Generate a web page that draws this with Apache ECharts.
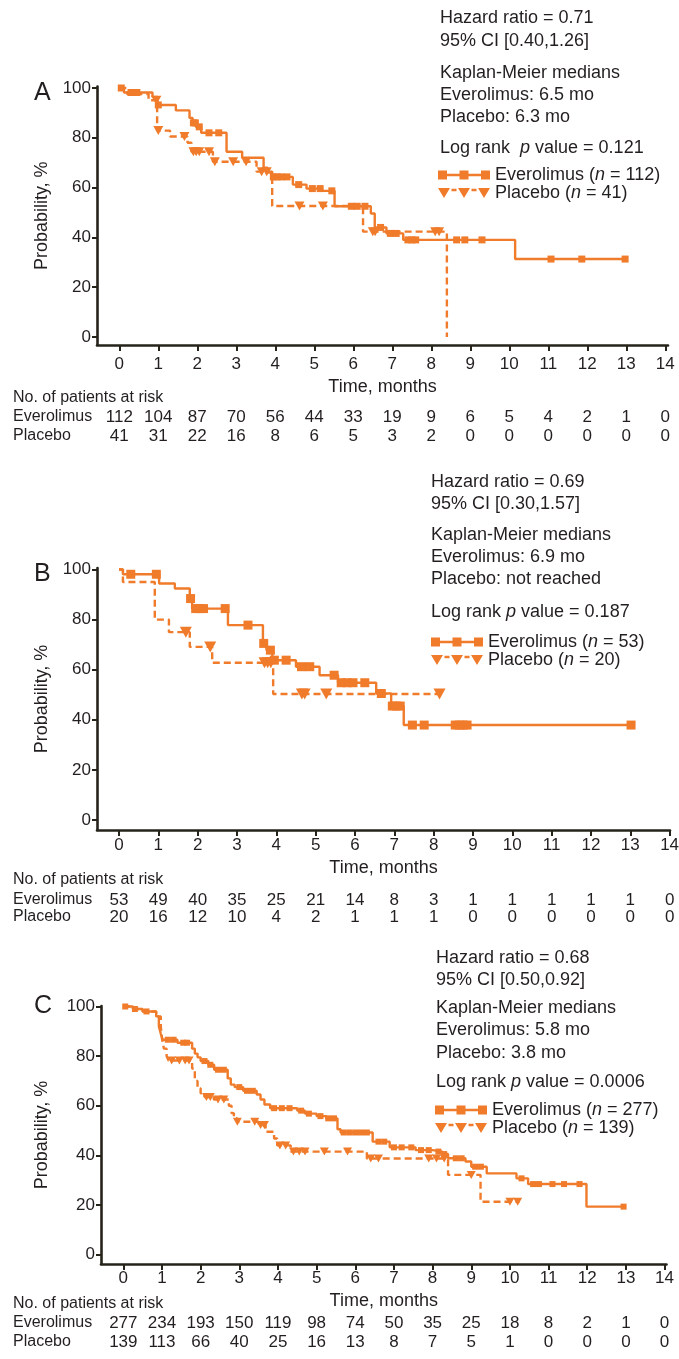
<!DOCTYPE html>
<html><head><meta charset="utf-8">
<script src="https://cdn.jsdelivr.net/npm/echarts@6/dist/echarts.min.js"></script>
<style>html,body{margin:0;padding:0;background:#fff}#c{width:679px;height:1359px}</style>
</head><body><div id="c"></div>
<script>
// ---------- data ----------
const months = [0,1,2,3,4,5,6,7,8,9,10,11,12,13,14];
const yTicks = [0,20,40,60,80,100];

const riskA_ever = [112,104,87,70,56,44,33,19,9,6,5,4,2,1,0];
const riskA_plac = [41,31,22,16,8,6,5,3,2,0,0,0,0,0,0];
const riskB_ever = [53,49,40,35,25,21,14,8,3,1,1,1,1,1,0];
const riskB_plac = [20,16,12,10,4,2,1,1,1,0,0,0,0,0,0];
const riskC_ever = [277,234,193,150,119,98,74,50,35,25,18,8,2,1,0];
const riskC_plac = [139,113,66,40,25,16,13,8,7,5,1,0,0,0,0];

// Panel A
const A_ever_t = [0,0.12,0.85,0.98,1.45,1.8,1.88,1.96,2.1,2.75,3.15,3.7,3.8,3.92,4.45,4.8,5.2,5.52,6.45,6.55,6.85,7.28,10.15,12.97];
const A_ever_s = [100,98.2,96.4,93.2,91.0,88.0,86.0,84.4,82.0,74.4,72.0,68.0,66.0,64.3,61.2,59.6,58.7,52.5,49.6,44.0,41.6,39.0,31.3,31.3];
const A_ever_c = [0.05,0.3,0.45,1.0,1.9,1.95,2.05,2.3,2.55,3.95,4.05,4.15,4.3,4.6,4.95,5.15,5.45,5.95,6.1,6.3,6.7,6.95,7.1,7.4,7.5,7.6,8.65,8.86,9.3,11.07,11.86,12.97];
const A_plac_t = [0,0.2,0.75,0.97,1.3,1.75,1.85,2.4,3.52,3.92,6.25,8.4];
const A_plac_s = [100,97.6,95.1,82.9,80.5,78.0,74.4,70.4,66.4,52.6,42.3,0];
const A_plac_c = [0.95,1.0,1.67,1.9,1.97,2.05,2.3,2.45,2.92,3.25,3.65,3.78,4.62,5.22,6.5,6.56,8.1,8.2];

// Panel B
const B_ever_t = [0,0.1,1.02,1.42,1.8,1.86,2.77,3.66,3.75,3.9,4.5,5.1,5.57,6.54,6.92,7.24,13.02];
const B_ever_s = [100,98.1,94.4,92.4,88.4,84.4,77.8,70.5,67.8,63.8,61.2,57.8,54.8,50.5,45.5,37.9,37.9];
const B_ever_c = [0.3,0.95,1.82,1.95,2.05,2.15,2.7,3.28,3.68,3.85,3.95,4.25,4.64,4.85,5.47,5.65,5.8,5.95,6.25,6.67,6.95,7.05,7.15,7.46,7.76,8.55,8.65,8.75,8.85,13.02];
const B_plac_t = [0,0.1,0.91,1.27,1.8,2.37,3.92,8.15];
const B_plac_s = [100,95.0,80.0,75.0,69.1,62.8,50.3,50.3];
const B_plac_c = [1.7,2.32,3.7,3.78,3.86,4.65,4.72,5.27,8.15];

// Panel C
const C_ever_t = [0,0.25,0.5,0.85,0.92,0.97,1.02,1.4,1.78,1.85,1.92,2.0,2.2,2.35,2.7,2.78,2.88,3.1,3.45,3.55,3.65,3.8,4.5,4.7,5.0,5.25,5.54,5.62,6.45,6.89,7.56,8.0,8.25,8.4,8.85,9.0,9.4,10.17,10.47,11.98,12.94];
const C_ever_s = [100,99,98,96,92,89,86.6,85.4,83,81,79.5,78,76.5,74.5,71,68.5,67.5,66,64.5,62.5,60.5,59,58,56.8,55.8,54.9,50.5,49.2,45.5,43.2,42.1,41.5,40.5,38.8,37.5,35.4,32.7,30.7,28.4,19.3,19.3];
const C_ever_c = [0.05,0.3,0.6,1.15,1.3,1.55,1.65,2.1,2.25,2.45,2.6,3.0,3.2,3.35,3.9,4.1,4.3,4.6,4.8,5.1,5.3,5.45,5.7,5.85,6.0,6.15,6.3,6.6,6.75,7.0,7.2,7.45,7.7,7.9,8.15,8.3,8.6,8.75,9.1,9.25,10.3,10.6,10.75,11.1,11.4,11.8,12.94];
const C_plac_t = [0,0.25,0.5,0.85,0.97,1.0,1.05,1.12,1.17,1.78,1.85,1.92,2.0,2.1,2.34,2.73,2.8,2.86,2.94,3.5,3.68,3.9,3.98,4.33,6.3,8.4,9.24,10.25];
const C_plac_s = [100,99,98,96,92,87,83,80,78.2,75,70,67,65,63.5,62.5,60,57,55,53.5,52.2,49.5,46.8,44,41.5,38.7,32.1,21.3,21.3];
const C_plac_c = [1.25,1.45,1.6,1.7,2.15,2.25,2.45,2.6,2.95,3.4,3.55,3.65,4.05,4.2,4.4,4.55,4.7,5.2,5.8,6.4,6.6,7.9,8.1,8.3,9.0,10.0,10.2];

// ---------- styling / layout ----------
const ORANGE = '#EF7B2B';
const AXIS = '#26241a';
const TXT = '#231f20';
const FONT = '"Liberation Sans", Arial, Helvetica, sans-serif';

const panels = [
  {key:'A', grid:{left:97, top:86.5, width:571, height:258.5}, xMin:-0.572, xMax:14.07, yMin:-3.21, yMax:100.6,
   ever:[A_ever_t,A_ever_s,A_ever_c], plac:[A_plac_t,A_plac_s,A_plac_c], risk:[riskA_ever,riskA_plac],
   n:[112,41], labMargin:11, nameGap:33, yNameGap:46, riskMargin:[64,83], sq:7, tri:[10,9],
   letterY:93, notesX:440, notesY:[18,41,73,95,117,148], legend:{left:438, top:166},
   notes:['Hazard ratio = 0.71','95% CI [0.40,1.26]','Kaplan-Meier medians','Everolimus: 6.5 mo','Placebo: 6.3 mo','{t|Log rank  }{i|p}{t| value = 0.121}'],
   rowY:[398,417,436]},
  {key:'B', grid:{left:97, top:568, width:573, height:262}, xMin:-0.559, xMax:14.01, yMin:-3.99, yMax:100.6,
   ever:[B_ever_t,B_ever_s,B_ever_c], plac:[B_plac_t,B_plac_s,B_plac_c], risk:[riskB_ever,riskB_plac],
   n:[53,20], labMargin:7, nameGap:29, yNameGap:46, riskMargin:[62,79], sq:9, tri:[12,11],
   letterY:574, notesX:431, notesY:[482,504,535,557,579,612], legend:{left:431, top:633},
   notes:['Hazard ratio = 0.69','95% CI [0.30,1.57]','Kaplan-Meier medians','Everolimus: 6.9 mo','Placebo: not reached','{t|Log rank }{i|p}{t| value = 0.187}'],
   rowY:[880,900,917]},
  {key:'C', grid:{left:101, top:1006, width:565.5, height:258}, xMin:-0.577, xMax:14.05, yMin:-3.83, yMax:100.2,
   ever:[C_ever_t,C_ever_s,C_ever_c], plac:[C_plac_t,C_plac_s,C_plac_c], risk:[riskC_ever,riskC_plac],
   n:[277,139], labMargin:6, nameGap:28, yNameGap:50, riskMargin:[51,70], sq:6, tri:[9,8],
   letterY:1006, notesX:436, notesY:[958,980,1008,1030,1053,1082], legend:{left:435, top:1101},
   notes:['Hazard ratio = 0.68','95% CI [0.50,0.92]','Kaplan-Meier medians','Everolimus: 5.8 mo','Placebo: 3.8 mo','{t|Log rank }{i|p}{t| value = 0.0006}'],
   rowY:[1304,1323,1342]}
];

function survAt(t, times, surv) {
  let v = surv[0];
  for (let i = 0; i < times.length; i++) { if (times[i] <= t) v = surv[i]; }
  return v;
}

const ICON_EVER = 'path://M0,0H9V9H0Z M21.5,0H30.5V9H21.5Z M43,0H52V9H43Z M9,3.3H21.5V5.7H9Z M30.5,3.3H43V5.7H30.5Z';
const ICON_PLAC = 'path://M0,0H12L6,10Z M20,0H32L26,10Z M40,0H52L46,10Z M13.5,0.8H18.5V3.2H13.5Z M33.5,0.8H38.5V3.2H33.5Z';

const grids = [], xAxes = [], yAxes = [], series = [], legends = [], graphics = [];
const legendNames = {};

panels.forEach((p, gi) => {
  grids.push(Object.assign({outerBoundsMode:'none', containLabel:false}, p.grid));
  xAxes.push({
    type:'value', gridIndex:gi, min:p.xMin, max:p.xMax, position:'bottom',
    axisLine:{show:true, onZero:false, lineStyle:{color:AXIS, width:2.6}},
    axisTick:{show:true, customValues:months, length:6, lineStyle:{color:AXIS, width:2}},
    axisLabel:{customValues:months, fontSize:17, fontFamily:FONT, color:TXT, margin:p.labMargin},
    splitLine:{show:false},
    name:'Time, months', nameLocation:'middle', nameGap:p.nameGap,
    nameTextStyle:{fontSize:18, fontFamily:FONT, color:TXT}
  });
  [0,1].forEach(r => {
    const arr = p.risk[r];
    xAxes.push({
      type:'value', gridIndex:gi, min:p.xMin, max:p.xMax, position:'bottom',
      axisLine:{show:false, onZero:false}, axisTick:{show:false}, splitLine:{show:false},
      axisLabel:{customValues:months, fontSize:17, fontFamily:FONT, color:TXT, margin:p.riskMargin[r],
        formatter:(v)=> String(arr[Math.round(v)])}
    });
  });
  yAxes.push({
    type:'value', gridIndex:gi, min:p.yMin, max:p.yMax,
    axisLine:{show:true, onZero:false, lineStyle:{color:AXIS, width:2.6}},
    axisTick:{show:true, customValues:yTicks, length:5, lineStyle:{color:AXIS, width:2}},
    axisLabel:{customValues:yTicks, fontSize:17, fontFamily:FONT, color:TXT, margin:6},
    splitLine:{show:false},
    name:'Probability, %', nameLocation:'middle', nameGap:p.yNameGap, nameRotate:90,
    nameTextStyle:{fontSize:18, fontFamily:FONT, color:TXT}
  });
  const xi = gi*3;
  const eName = p.key+'_E', pName = p.key+'_P';
  legendNames[eName] = ['Everolimus', p.n[0]];
  legendNames[pName] = ['Placebo', p.n[1]];
  const mk = (arm) => arm[0].map((t,i)=>[t, arm[1][i]]);
  series.push({
    name:eName, type:'line', xAxisIndex:xi, yAxisIndex:gi, step:'end', symbol:'none', showSymbol:false,
    data:mk(p.ever), color:ORANGE, lineStyle:{color:ORANGE, width:2.4, type:'solid'}, itemStyle:{color:ORANGE, borderWidth:0},
    animation:false, z:3
  });
  series.push({
    name:pName, type:'line', xAxisIndex:xi, yAxisIndex:gi, step:'end', symbol:'none', showSymbol:false,
    data:mk(p.plac), color:ORANGE, lineStyle:{color:ORANGE, width:2.4, type:[7,4]}, itemStyle:{color:ORANGE, borderWidth:0},
    animation:false, z:3
  });
  series.push({
    name:eName+'_c', type:'scatter', xAxisIndex:xi, yAxisIndex:gi, symbol:'rect', symbolSize:p.sq,
    data:p.ever[2].map(t=>[t, survAt(t, p.ever[0], p.ever[1])]),
    itemStyle:{color:ORANGE, opacity:1}, animation:false, z:4
  });
  series.push({
    name:pName+'_c', type:'scatter', xAxisIndex:xi, yAxisIndex:gi, symbol:'triangle', symbolRotate:180, symbolSize:p.tri,
    data:p.plac[2].map(t=>[t, survAt(t, p.plac[0], p.plac[1])]),
    itemStyle:{color:ORANGE, opacity:1}, animation:false, z:4
  });
  legends.push({
    orient:'vertical', left:p.legend.left, top:p.legend.top, itemGap:0, itemWidth:52, itemHeight:10,
    padding:0, selectedMode:false,
    data:[{name:eName, icon:ICON_EVER}, {name:pName, icon:ICON_PLAC}],
    itemStyle:{color:ORANGE, borderWidth:0},
    formatter:(name)=>{ const l = legendNames[name]; return '{t|'+l[0]+' (}{i|n}{t| = '+l[1]+')}'; },
    textStyle:{fontSize:18, fontFamily:FONT, color:TXT, rich:{
      t:{fontSize:18, fontFamily:FONT, color:TXT, lineHeight:20},
      i:{fontSize:18, fontFamily:FONT, color:TXT, fontStyle:'italic', lineHeight:20}}}
  });
  graphics.push({type:'text', x:34, y:p.letterY, style:{text:p.key, fontSize:25, fontFamily:FONT, fill:TXT, verticalAlign:'middle', align:'left'}});
  p.notes.forEach((s, k) => {
    graphics.push({type:'text', x:p.notesX, y:p.notesY[k], style:{text:s, fontSize:18, fontFamily:FONT, fill:TXT, verticalAlign:'middle', align:'left',
      rich:{t:{fontSize:18, fontFamily:FONT, fill:TXT}, i:{fontSize:18, fontFamily:FONT, fill:TXT, fontStyle:'italic'}}}});
  });
  ['No. of patients at risk','Everolimus','Placebo'].forEach((s,k)=>{
    graphics.push({type:'text', x:13, y:p.rowY[k], style:{text:s, fontSize:16, fontFamily:FONT, fill:TXT, verticalAlign:'middle', align:'left'}});
  });
});

const chart = echarts.init(document.getElementById('c'), null, {renderer:'canvas', width:679, height:1359});
chart.setOption({
  animation:false,
  backgroundColor:'#ffffff',
  textStyle:{fontFamily:FONT},
  grid:grids, xAxis:xAxes, yAxis:yAxes, series:series, legend:legends, graphic:graphics
});
</script>
</body></html>
